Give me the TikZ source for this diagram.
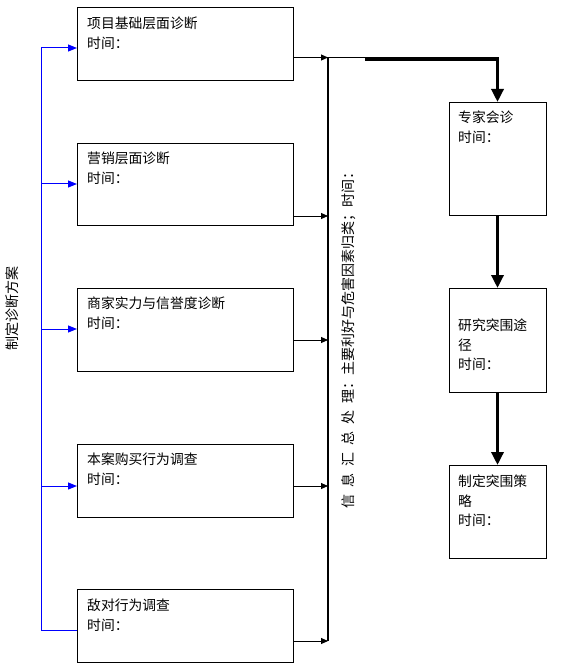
\documentclass[tikz,border=0pt]{standalone}
\usepackage{fontspec}
\setmainfont{Noto Sans CJK SC}
\usetikzlibrary{arrows.meta}
\begin{document}
\begin{tikzpicture}[x=1pt,y=-1pt,
  box/.style={draw, line width=0.9pt, inner sep=0pt, outer sep=0pt, anchor=north west},
  txt/.style={anchor=north west, inner sep=0pt, align=left, font=\fontsize{13.8}{19.5}\selectfont},
  vtxt/.style={inner sep=0pt, rotate=90, font=\fontsize{14}{16}\selectfont},
  bluearr/.style={draw=blue, line width=1pt, -{Triangle[length=9pt,width=7pt]}},
  bluel/.style={draw=blue, line width=1pt},
  blkarr/.style={draw=black, line width=0.9pt, -{Triangle[length=7pt,width=6pt]}},
  trunk/.style={draw=black, line width=1.3pt},
  thickarr/.style={draw=black, line width=3.6pt, -{Triangle[length=13pt,width=12pt]}},
]
\useasboundingbox (0,0) rectangle (560,668);
% left boxes
\node[box, minimum width=216pt, minimum height=73pt] (b1) at (77,7) {};
\node[box, minimum width=216pt, minimum height=82pt] (b2) at (77,143) {};
\node[box, minimum width=216pt, minimum height=83pt] (b3) at (77,288) {};
\node[box, minimum width=216pt, minimum height=73pt] (b4) at (77,444) {};
\node[box, minimum width=216pt, minimum height=73pt] (b5) at (77,589) {};
% right boxes
\node[box, minimum width=97pt, minimum height=113pt] (b6) at (449,102) {};
\node[box, minimum width=97pt, minimum height=104pt] (b7) at (449,288) {};
\node[box, minimum width=97pt, minimum height=93pt] (b8) at (449,465) {};
% texts
\node[txt] (t1) at ([shift={(10,10)}]b1.north west) {项目基础层面诊断\\时间：};
\node[txt] (t2) at ([shift={(10,9)}]b2.north west) {营销层面诊断\\时间：};
\node[txt] (t3) at ([shift={(10,9)}]b3.north west) {商家实力与信誉度诊断\\时间：};
\node[txt] (t4) at ([shift={(10,9)}]b4.north west) {本案购买行为调查\\时间：};
\node[txt] (t5) at ([shift={(10,10)}]b5.north west) {敌对行为调查\\时间：};
\node[txt] (t6) at ([shift={(9,9)}]b6.north west) {专家会诊\\时间：};
\node[txt] (t7) at ([shift={(9,31)}]b7.north west) {研究突围途\\径\\时间：};
\node[txt] (t8) at ([shift={(9,10)}]b8.north west) {制定突围策\\略\\时间：};
% left rotated label
\node[vtxt] (lbl) at (12.5,308) {制定诊断方案};
% middle rotated label
\node[vtxt] (mid) at (349,337) {\spaceskip=7pt 信 息 汇 总 处 理：主要利好与危害因素归类；时间：};
% blue trunk
\coordinate (s1) at (41,48);
\coordinate (s2) at (41,184);
\coordinate (s3) at (41,329);
\coordinate (s4) at (41,486);
\coordinate (s5) at (41,630);
\draw[bluel] (s1) -- (s5);
\draw[bluearr] (s1) -- (s1 -| b1.west);
\draw[bluearr] (s2) -- (s2 -| b2.west);
\draw[bluearr] (s3) -- (s3 -| b3.west);
\draw[bluearr] (s4) -- (s4 -| b4.west);
\draw[bluel] (s5) -- (s5 -| b5.west);
% black collector
\coordinate (v1) at (328,57.5);
\coordinate (v2) at (328,216);
\coordinate (v3) at (328,340);
\coordinate (v4) at (328,486);
\coordinate (v5) at (328,641);
\draw[trunk] (v1) -- (v5);
\draw[blkarr] (v1 -| b1.east) -- (v1);
\draw[blkarr] (v2 -| b2.east) -- (v2);
\draw[blkarr] (v3 -| b3.east) -- (v3);
\draw[blkarr] (v4 -| b4.east) -- (v4);
\draw[blkarr] (v5 -| b5.east) -- (v5);
% top connector
\coordinate (c0) at (365,57.5);
\coordinate (c1) at (365,59);
\draw[draw=black, line width=0.9pt] (v1) -- (c0);
\draw[thickarr] (c1) -| (b6.north);
\draw[thickarr] (b6.south) -- (b7.north);
\draw[thickarr] (b7.south) -- (b8.north);
\end{tikzpicture}
\end{document}
